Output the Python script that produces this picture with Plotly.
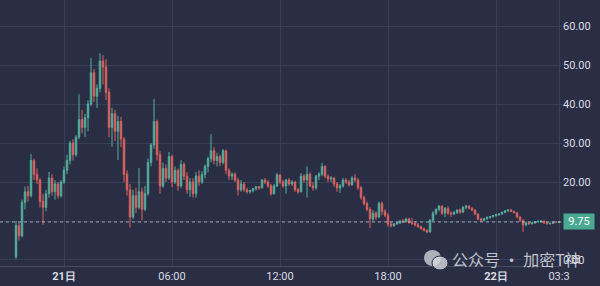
import pandas as pd
import plotly.graph_objects as go

# 10-minute candles starting 20日 21:20
start_time = "2024-11-20 21:20"
opens = [0.8, 8.8, 6.2, 14.8, 17.5, 16.5, 25.5, 22.0, 20.5, 15.0,
         13.5, 17.0, 21.0, 17.5, 19.5, 16.5, 20.0, 23.0, 25.5, 30.0,
         27.0, 31.5, 36.0, 34.0, 36.5, 40.0, 48.0, 42.0, 44.0, 51.0,
         49.5, 43.0, 34.0, 37.5, 33.0, 35.5, 31.0, 22.0, 18.0, 11.0,
         16.5, 13.5, 17.5, 13.0, 17.0, 25.0, 29.5, 35.5, 27.0, 19.0,
         23.5, 21.0, 26.5, 20.0, 23.0, 19.0, 24.5, 21.5, 18.0, 20.0,
         17.0, 21.5, 20.0, 22.0, 24.0, 26.0, 28.0, 25.5, 26.5, 25.0,
         28.0, 23.0, 21.5, 22.0, 20.5, 18.0, 19.5, 18.0, 17.5, 17.8,
         18.3, 18.8, 18.5, 20.5, 20.0, 19.0, 17.0, 19.0, 21.8, 20.0,
         19.0, 20.5, 19.5, 20.0, 18.0, 17.5, 21.5, 20.5, 22.0, 19.0,
         18.5, 21.5, 22.0, 24.0, 21.5, 20.8, 21.0, 19.5, 18.5, 19.0,
         20.5, 20.0, 19.3, 21.0, 20.5, 18.5, 16.0, 14.5, 13.0, 10.5,
         12.0, 11.0, 14.5, 12.5, 11.5, 9.2, 8.8, 9.3, 9.5, 10.0,
         9.8, 10.5, 9.6, 9.4, 9.0, 8.5, 8.0, 7.6, 7.2, 10.2,
         12.0, 13.0, 13.8, 12.0, 13.2, 12.0, 11.8, 12.2, 12.8, 12.3,
         13.5, 13.8, 13.3, 12.8, 11.8, 10.5, 10.2, 10.6, 10.9, 11.1,
         11.4, 11.6, 11.8, 12.2, 12.6, 12.8, 12.5, 12.1, 11.0, 10.2,
         9.0, 9.5, 9.3, 9.5, 9.8, 9.9, 10.0, 9.5, 9.3, 9.4,
         9.7, 9.6]
highs = [10.0, 9.6, 15.5, 18.8, 19.0, 27.2, 26.0, 23.5, 21.0, 17.0,
         18.0, 22.6, 22.0, 20.5, 20.0, 20.5, 24.0, 27.0, 30.5, 31.0,
         32.0, 42.5, 38.5, 37.5, 41.0, 51.8, 49.0, 45.0, 53.0, 52.5,
         51.5, 44.0, 39.0, 38.5, 37.0, 36.7, 31.5, 23.0, 19.5, 18.0,
         18.5, 23.6, 18.5, 19.0, 26.0, 30.0, 41.3, 36.0, 28.0, 25.0,
         24.5, 27.7, 27.0, 24.0, 23.5, 25.6, 25.0, 22.5, 21.0, 21.0,
         22.5, 23.0, 22.8, 24.5, 26.5, 32.3, 29.0, 27.5, 27.0, 28.5,
         28.3, 23.5, 22.5, 22.5, 21.0, 20.5, 20.0, 18.5, 18.0, 18.5,
         19.0, 19.0, 20.8, 21.0, 20.5, 19.5, 19.5, 22.3, 22.0, 20.5,
         20.8, 21.0, 20.5, 20.3, 18.5, 22.3, 22.0, 24.0, 22.5, 20.0,
         21.8, 22.5, 24.9, 24.3, 22.0, 21.5, 21.3, 20.0, 19.5, 21.0,
         21.0, 20.5, 21.5, 22.0, 21.0, 19.0, 16.5, 15.0, 13.5, 12.8,
         12.5, 15.0, 15.0, 13.0, 12.0, 9.8, 9.5, 9.8, 10.3, 10.5,
         10.8, 10.8, 10.8, 10.0, 9.5, 8.8, 8.3, 7.9, 10.5, 12.5,
         13.2, 14.1, 14.0, 13.6, 13.8, 12.5, 12.5, 13.0, 13.2, 13.8,
         14.1, 14.0, 13.5, 13.0, 12.0, 10.8, 10.8, 11.2, 11.3, 11.6,
         11.8, 12.0, 12.4, 12.8, 13.0, 13.1, 12.6, 12.2, 11.2, 10.4,
         9.8, 9.8, 9.7, 9.9, 10.1, 10.2, 10.1, 9.7, 9.6, 9.8,
         9.9, 9.9]
lows = [0.3, 5.0, 5.8, 13.0, 15.0, 16.0, 20.5, 19.5, 13.5, 9.0,
        12.5, 16.0, 16.5, 15.5, 15.8, 16.0, 19.5, 22.0, 24.5, 25.5,
        26.5, 31.0, 32.5, 31.5, 33.0, 39.5, 40.5, 39.0, 43.0, 45.0,
        41.0, 31.5, 29.0, 30.5, 25.6, 29.0, 20.0, 16.5, 8.3, 10.5,
        12.0, 13.0, 10.2, 12.5, 16.5, 24.0, 28.5, 25.5, 17.0, 18.5,
        20.0, 20.5, 18.7, 19.5, 17.8, 18.5, 20.5, 17.0, 16.2, 16.0,
        16.0, 19.0, 19.5, 21.0, 22.5, 25.0, 24.5, 24.0, 24.0, 24.5,
        22.0, 20.5, 20.5, 20.0, 16.5, 17.5, 17.5, 17.0, 17.0, 17.3,
        17.8, 18.0, 18.3, 19.5, 18.5, 16.5, 16.8, 18.7, 19.5, 18.5,
        17.0, 19.0, 19.0, 17.5, 17.0, 17.3, 19.8, 16.0, 18.7, 17.8,
        18.0, 20.5, 21.5, 21.0, 20.0, 20.0, 18.8, 17.5, 17.2, 18.5,
        19.5, 18.8, 19.0, 20.0, 18.0, 15.5, 14.0, 12.5, 8.2, 10.0,
        10.3, 10.8, 11.5, 11.0, 8.5, 8.3, 8.5, 9.0, 9.2, 9.5,
        9.6, 9.3, 9.0, 8.6, 8.2, 7.8, 7.3, 6.9, 7.0, 10.0,
        11.5, 12.5, 11.5, 11.0, 11.5, 11.0, 11.5, 11.8, 11.8, 12.0,
        13.0, 13.0, 12.5, 11.5, 10.2, 9.8, 9.9, 10.3, 10.6, 10.9,
        11.1, 11.3, 11.6, 12.0, 12.3, 12.3, 12.0, 10.8, 9.8, 7.2,
        8.6, 9.0, 9.1, 9.3, 9.6, 9.7, 9.3, 9.1, 9.1, 9.3,
        9.5, 9.5]
closes = [8.8, 6.2, 14.8, 17.5, 16.5, 25.5, 22.0, 20.5, 15.0, 13.5,
          17.0, 21.0, 17.5, 19.5, 16.5, 20.0, 23.0, 25.5, 30.0, 27.0,
          31.5, 36.0, 34.0, 36.5, 40.0, 48.0, 42.0, 44.0, 51.0, 49.5,
          43.0, 34.0, 37.5, 33.0, 35.5, 31.0, 22.0, 18.0, 11.0, 16.5,
          13.5, 17.5, 13.0, 17.0, 25.0, 29.5, 35.5, 27.0, 19.0, 23.5,
          21.0, 26.5, 20.0, 23.0, 19.0, 24.5, 21.5, 18.0, 20.0, 17.0,
          21.5, 20.0, 22.0, 24.0, 26.0, 28.0, 25.5, 26.5, 25.0, 28.0,
          23.0, 21.5, 22.0, 20.5, 18.0, 19.5, 18.0, 17.5, 17.8, 18.3,
          18.8, 18.5, 20.5, 20.0, 19.0, 17.0, 19.0, 21.8, 20.0, 19.0,
          20.5, 19.5, 20.0, 18.0, 17.5, 21.5, 20.5, 22.0, 19.0, 18.5,
          21.5, 22.0, 24.0, 21.5, 20.8, 21.0, 19.5, 18.5, 19.0, 20.5,
          20.0, 19.3, 21.0, 20.5, 18.5, 16.0, 14.5, 13.0, 10.5, 12.0,
          11.0, 14.5, 12.5, 11.5, 9.2, 8.8, 9.3, 9.5, 10.0, 9.8,
          10.5, 9.6, 9.4, 9.0, 8.5, 8.0, 7.6, 7.2, 10.2, 12.0,
          13.0, 13.8, 12.0, 13.2, 12.0, 11.8, 12.2, 12.8, 12.3, 13.5,
          13.8, 13.3, 12.8, 11.8, 10.5, 10.2, 10.6, 10.9, 11.1, 11.4,
          11.6, 11.8, 12.2, 12.6, 12.8, 12.5, 12.1, 11.0, 10.2, 9.0,
          9.5, 9.3, 9.5, 9.8, 9.9, 10.0, 9.5, 9.3, 9.4, 9.7,
          9.6, 9.75]

tick_times = ["2024-11-21 00:00", "2024-11-21 06:00", "2024-11-21 12:00",
              "2024-11-21 18:00", "2024-11-22 00:00", "2024-11-22 03:30"]
tick_labels = ["<b>21日</b>", "06:00", "12:00", "18:00", "<b>22日</b>", "03:3"]
y_ticks = [0, 10, 20, 30, 40, 50, 60]
y_tick_labels = ["0.00", "", "20.00", "30.00", "40.00", "50.00", "60.00"]
last_price = 9.75

times = pd.date_range(start_time, periods=len(closes), freq="10min")

BG = "#292e44"
UP = "#54ae9c"
DOWN = "#dc625e"
GRID = "#383e56"
TXT = "#dadde5"

fig = go.Figure(go.Candlestick(
    x=times, open=opens, high=highs, low=lows, close=closes,
    increasing=dict(line=dict(color=UP, width=1), fillcolor=UP),
    decreasing=dict(line=dict(color=DOWN, width=1), fillcolor=DOWN),
    whiskerwidth=0, hoverinfo="skip",
))

fig.add_shape(type="line", xref="paper", x0=0, x1=1, yref="y",
              y0=last_price, y1=last_price,
              line=dict(color="rgba(190,205,215,0.75)", width=1, dash="dot"))

fig.add_annotation(x=1.0, xref="paper", y=last_price, yref="y",
                   xanchor="left", yanchor="middle", xshift=1,
                   text=f"{last_price:.2f}",
                   showarrow=False, bgcolor="#4aa991",
                   font=dict(color="#ffffff", size=11, family="Roboto"),
                   borderpad=2, width=26, height=11)

# watermark
W, H = 562, 266
def px(x):
    return x / W
def py(y):
    return (H - y) / H

fig.add_shape(type="circle", xref="paper", yref="paper",
              x0=px(424), x1=px(441), y0=py(266), y1=py(250),
              fillcolor="rgba(225,228,232,0.72)", line=dict(width=0), layer="above")
fig.add_shape(type="circle", xref="paper", yref="paper",
              x0=px(432), x1=px(448), y0=py(270), y1=py(256),
              fillcolor="rgba(215,218,224,0.8)", line=dict(color=BG, width=1), layer="above")
fig.add_annotation(x=px(516), xref="paper", y=py(259), yref="paper",
                   xanchor="center", yanchor="middle", borderpad=0,
                   text="公众号 · 加密T神", showarrow=False,
                   font=dict(family="Noto Sans CJK SC", size=16,
                             color="rgba(235,237,242,0.78)"))

fig.update_layout(
    width=600, height=286,
    margin=dict(l=0, r=38, t=0, b=20),
    paper_bgcolor=BG, plot_bgcolor=BG,
    showlegend=False,
    font=dict(family="Roboto", color=TXT, size=11),
    xaxis=dict(
        type="date",
        range=["2024-11-20 20:26:40", "2024-11-22 03:40:00"],
        rangeslider=dict(visible=False),
        tickvals=tick_times, ticktext=tick_labels,
        showgrid=True, gridcolor=GRID, gridwidth=1,
        showline=True, linecolor="#454b63", linewidth=1,
        zeroline=False, ticks="", tickfont=dict(size=11, color=TXT),
    ),
    yaxis=dict(
        side="right",
        range=[-1.54, 66.67],
        tickvals=y_ticks, ticktext=y_tick_labels,
        showgrid=True, gridcolor=GRID, gridwidth=1,
        zeroline=False, ticks="", showline=False,
        tickfont=dict(size=11, color=TXT),
    ),
)

fig.write_html("out.html")
